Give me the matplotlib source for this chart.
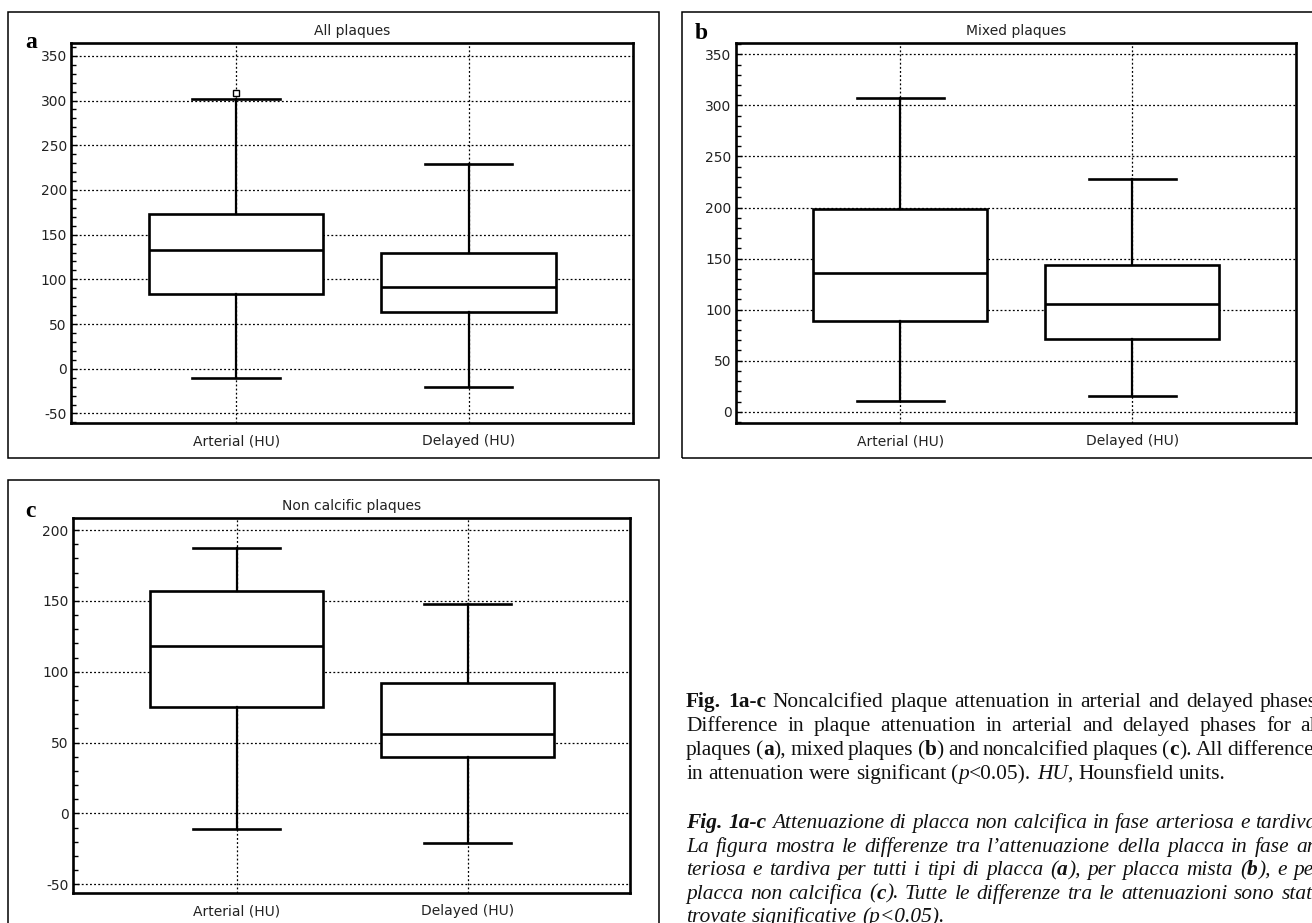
import matplotlib
matplotlib.use("Agg")
import matplotlib.pyplot as plt
from matplotlib.patches import Rectangle
from matplotlib.transforms import IdentityTransform
from matplotlib.ticker import MultipleLocator

plt.rcParams["axes.unicode_minus"] = False

W, H = 1312, 923

groups = ["Arterial (HU)", "Delayed (HU)"]

# box stats: whisker low, Q1, median, Q3, whisker high
all_lo = [-10, -20]
all_q1 = [84, 63]
all_med = [133, 92]
all_q3 = [173, 130]
all_hi = [302, 229]
all_out = [[308], []]

mixed_lo = [10.5, 15.5]
mixed_q1 = [89, 71.5]
mixed_med = [135.5, 106]
mixed_q3 = [198.5, 143.5]
mixed_hi = [307, 228]
mixed_out = [[], []]

noncalc_lo = [-11, -21]
noncalc_q1 = [75.5, 40]
noncalc_med = [118, 56]
noncalc_q3 = [157, 92]
noncalc_hi = [187, 148]
noncalc_out = [[], []]

titles = ["All plaques", "Mixed plaques", "Non calcific plaques"]
panel_letters = ["a", "b", "c"]

# caption lines: list of (text, style) runs; style n / b / i / bi
caption_en = [
    [("Fig. 1a-c", "b"), (" Noncalcified plaque attenuation in arterial and delayed phases.", "n")],
    [("Difference in plaque attenuation in arterial and delayed phases for all", "n")],
    [("plaques (", "n"), ("a", "b"), ("), mixed plaques (", "n"), ("b", "b"),
     (") and noncalcified plaques (", "n"), ("c", "b"), ("). All differences", "n")],
    [("in attenuation were significant (", "n"), ("p", "i"), ("<0.05). ", "n"),
     ("HU", "i"), (", Hounsfield units.", "n")],
]
caption_it = [
    [("Fig. 1a-c", "bi"), (" Attenuazione di placca non calcifica in fase arteriosa e tardiva.", "i")],
    [("La figura mostra le differenze tra l\u2019attenuazione della placca in fase ar-", "i")],
    [("teriosa e tardiva per tutti i tipi di placca (", "i"), ("a", "bi"),
     ("), per placca mista (", "i"), ("b", "bi"), ("), e per", "i")],
    [("placca non calcifica (", "i"), ("c", "bi"),
     ("). Tutte le differenze tra le attenuazioni sono state", "i")],
    [("trovate significative (p<0.05).", "i")],
]

STYLES = {"n": ("normal", "normal"), "b": ("bold", "normal"),
          "i": ("normal", "italic"), "bi": ("bold", "italic")}
CAP_SIZE = 15.4


def px_rect(left, top, right, bottom):
    return [left / W, 1 - bottom / H, (right - left) / W, (bottom - top) / H]


def split_words(segments):
    words = [[]]
    for text, st in segments:
        parts = text.split(" ")
        for k, part in enumerate(parts):
            if k > 0:
                words.append([])
            if part:
                words[-1].append((part, st))
    return [w for w in words if w]


def draw_line(fig, renderer, segments, x0, y, right=None):
    words = split_words(segments)
    placed = []
    for w in words:
        pieces = []
        for part, st in w:
            weight, style = STYLES[st]
            t = fig.text(0, H - y, part, transform=IdentityTransform(),
                         family="Liberation Serif", fontsize=CAP_SIZE,
                         fontweight=weight, fontstyle=style,
                         ha="left", va="baseline", color="#111111")
            pieces.append((t, t.get_window_extent(renderer).width))
        placed.append(pieces)
    widths = [sum(p[1] for p in pieces) for pieces in placed]
    gap = CAP_SIZE * 100 / 72 * 0.25
    if right is not None and len(words) > 1:
        gap = (right - x0 - sum(widths)) / (len(words) - 1)
    x = x0
    for pieces, w in zip(placed, widths):
        for t, tw in pieces:
            t.set_x(x)
            x += tw
        x += gap


fig = plt.figure(figsize=(W / 100, H / 100), dpi=100)
renderer = fig.canvas.get_renderer()

# outer frames around each panel
frames = [(7.5, 12, 658.5, 458), (681.5, 12, 1330, 458), (7.5, 480, 658.5, 940)]
for l, t, r, b in frames:
    fig.patches.append(Rectangle((l / W, 1 - b / H), (r - l) / W, (b - t) / H,
                                 transform=fig.transFigure, fill=False,
                                 edgecolor="black", linewidth=1.1))

axes_rects = [px_rect(71, 43.3, 632.5, 423.3),
              px_rect(735.7, 42.7, 1295.7, 423),
              px_rect(72.9, 518.3, 630.3, 893)]
ylims = [(-61, 364), (-11, 361.4), (-56.1, 208.3)]
yticks = [range(-50, 351, 50), range(0, 351, 50), range(-50, 201, 50)]
data = [
    (all_lo, all_q1, all_med, all_q3, all_hi, all_out),
    (mixed_lo, mixed_q1, mixed_med, mixed_q3, mixed_hi, mixed_out),
    (noncalc_lo, noncalc_q1, noncalc_med, noncalc_q3, noncalc_hi, noncalc_out),
]
letter_pos = [(25, 48.3), (695, 39.3), (25, 516.7)]

for i in range(3):
    ax = fig.add_axes(axes_rects[i])
    lo, q1, med, q3, hi, out = data[i]
    stats = []
    for k, g in enumerate(groups):
        stats.append(dict(med=med[k], q1=q1[k], q3=q3[k], whislo=lo[k],
                          whishi=hi[k], fliers=out[k], label=g))
    ax.bxp(stats, positions=[1, 2], widths=0.75, patch_artist=True,
           boxprops=dict(facecolor="white", edgecolor="black", linewidth=1.9),
           medianprops=dict(color="black", linewidth=1.9),
           whiskerprops=dict(color="black", linewidth=1.6),
           capprops=dict(color="black", linewidth=1.9),
           flierprops=dict(marker="s", markersize=5, markerfacecolor="white",
                           markeredgecolor="black", markeredgewidth=1))
    ax.set_xlim(0.29, 2.705)
    ax.set_ylim(*ylims[i])
    ax.set_yticks(list(yticks[i]))
    ax.yaxis.set_minor_locator(MultipleLocator(10))
    ax.set_axisbelow(True)
    ax.grid(True, which="major", color="black", linestyle=(0, (1.5, 1.8)), linewidth=0.9)
    ax.tick_params(axis="y", which="major", direction="in", length=4.5, width=1,
                   pad=3, labelsize=10, labelcolor="#222222")
    ax.tick_params(axis="y", which="minor", direction="in", length=3.5, width=1)
    ax.tick_params(axis="x", length=0, pad=8, labelsize=10, labelcolor="#222222")
    for sp in ax.spines.values():
        sp.set_linewidth(1.9)
    ax.annotate(titles[i], xy=(0.5, 1), xycoords="axes fraction",
                xytext=(0, 8.6), textcoords="offset points",
                ha="center", va="center", fontsize=10, color="#222222")
    lx, ly = letter_pos[i]
    fig.text(lx / W, 1 - ly / H, panel_letters[i], family="Liberation Serif",
             fontweight="bold", fontsize=17, ha="left", va="baseline")

# caption, justified lines run past the right edge like the source page
right_edge = 1322
x0 = 686
for k, seg in enumerate(caption_en):
    draw_line(fig, renderer, seg, x0, 707 + 24 * k,
              right_edge if k < len(caption_en) - 1 else None)
for k, seg in enumerate(caption_it):
    draw_line(fig, renderer, seg, x0, 828 + 23.6 * k,
              right_edge if k < len(caption_it) - 1 else None)

fig.savefig("out.png", dpi=100)
